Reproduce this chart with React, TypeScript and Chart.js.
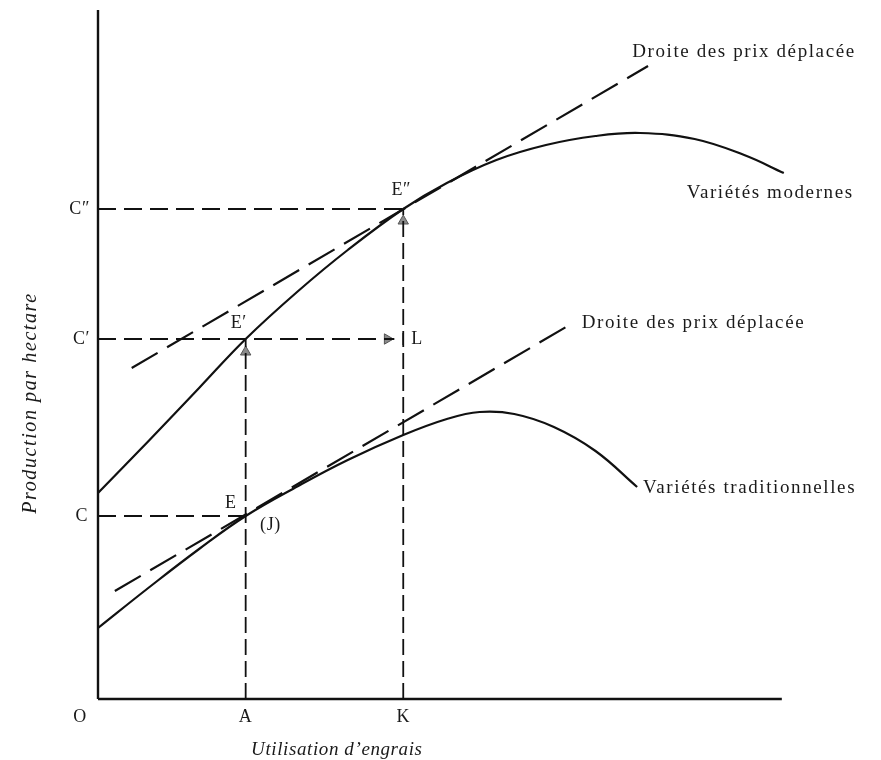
import React, { useEffect, useRef } from "react";
import { Chart, registerables } from "chart.js";

Chart.register(...registerables);

// Units: x = fertilizer use, y = production per hectare (origin O = 0,0)
const X_MAX = 783;
const Y_MAX = 689;

const modernX = [0, 52, 102, 149, 202, 252, 308, 352, 402, 452, 502, 547, 602, 652, 692];
const modernY = [206, 259, 311, 360, 408, 449, 490, 516, 539, 554, 563, 566, 560, 544, 526];

const tradX = [0, 52, 102, 149, 202, 252, 308, 352, 385, 420, 460, 502, 544];
const tradY = [71, 112, 150, 183, 213, 239, 264, 280, 287, 285, 272, 248, 212];

const upperPriceX = [34, 555];
const upperPriceY = [331, 633];
const lowerPriceX = [17, 474];
const lowerPriceY = [108, 373];

// Key levels
const A_X = 149;
const K_X = 308;
const C_Y = 183;
const C1_Y = 360;
const C2_Y = 490;
const L_X = 299;

const pts = (xs: number[], ys: number[]) => xs.map((x, i) => ({ x, y: ys[i] }));

type Lbl = { text: string; x: number; y: number; align?: CanvasTextAlign; big?: boolean };

const SERIF = '"Liberation Serif", "DejaVu Serif", serif';

const labels: Lbl[] = [
  { text: "C″", x: -8, y: C2_Y, align: "right" },
  { text: "C′", x: -8, y: C1_Y, align: "right" },
  { text: "C", x: -10, y: C_Y, align: "right" },
  { text: "O", x: -18, y: -18, align: "center" },
  { text: "A", x: A_X, y: -18, align: "center" },
  { text: "K", x: K_X, y: -18, align: "center" },
  { text: "E″", x: 306, y: 509, align: "center" },
  { text: "E′", x: 142, y: 376, align: "center" },
  { text: "E", x: 134, y: 196, align: "center" },
  { text: "(J)", x: 174, y: 174, align: "center" },
  { text: "L", x: 316, y: C1_Y, align: "left" },
  { text: "Droite des prix déplacée", x: 539, y: 647, align: "left", big: true },
  { text: "Variétés modernes", x: 594, y: 506, align: "left", big: true },
  { text: "Droite des prix déplacée", x: 488, y: 376, align: "left", big: true },
  { text: "Variétés traditionnelles", x: 550, y: 211, align: "left", big: true },
];

const xTitle = "Utilisation d’engrais";
const yTitle = "Production par hectare";

const textPlugin = {
  id: "textLabels",
  afterDatasetsDraw(chart: any) {
    const { ctx, scales } = chart;
    const sx = scales.x;
    const sy = scales.y;
    ctx.save();
    ctx.fillStyle = "#1a1a1a";
    ctx.textBaseline = "middle";
    for (const l of labels) {
      ctx.font = l.big ? `19px ${SERIF}` : `18px ${SERIF}`;
      (ctx as any).letterSpacing = l.big ? "1.6px" : "0.6px";
      ctx.textAlign = l.align || "left";
      ctx.fillText(l.text, sx.getPixelForValue(l.x), sy.getPixelForValue(l.y));
    }
    ctx.font = `italic 19px ${SERIF}`;
    (ctx as any).letterSpacing = "0.6px";
    ctx.textAlign = "center";
    ctx.fillText(xTitle, sx.getPixelForValue(241), sy.getPixelForValue(-51));
    ctx.font = `italic 20px ${SERIF}`;
    (ctx as any).letterSpacing = "1.6px";
    ctx.translate(sx.getPixelForValue(-68), sy.getPixelForValue(296));
    ctx.rotate(-Math.PI / 2);
    ctx.fillText(yTitle, 0, 0);
    ctx.restore();
  },
};

export default function App() {
  const ref = useRef<HTMLCanvasElement | null>(null);
  useEffect(() => {
    if (!ref.current) return;
    const solid = (data: any[], w = 2) => ({
      data,
      borderColor: "#111",
      borderWidth: w,
      pointRadius: 0,
      showLine: true,
      fill: false,
      tension: 0.4,
      clip: false,
    });
    const dashed = (data: any[], dash: number[], w = 1.8) => ({
      data,
      borderColor: "#111",
      borderWidth: w,
      borderDash: dash,
      pointRadius: 0,
      showLine: true,
      fill: false,
      tension: 0,
      clip: false,
    });
    const arrow = (x: number, y: number, rot: number) => ({
      data: [{ x, y }],
      showLine: false,
      pointStyle: "triangle",
      pointRadius: 6,
      pointRotation: rot,
      backgroundColor: "#8a8a8a",
      borderColor: "#555",
      borderWidth: 1,
      clip: false,
    });
    const chart = new Chart(ref.current, {
      type: "scatter",
      data: {
        datasets: [
          solid([{ x: 0, y: 0 }, { x: 0, y: Y_MAX }], 2.4),
          solid([{ x: 0, y: 0 }, { x: 690, y: 0 }], 2.4),
          solid(pts(modernX, modernY), 2.2),
          solid(pts(tradX, tradY), 2.2),
          dashed(pts(upperPriceX, upperPriceY), [30, 11], 2.2),
          dashed(pts(lowerPriceX, lowerPriceY), [30, 11], 2.2),
          dashed([{ x: 0, y: C2_Y }, { x: K_X, y: C2_Y }], [18, 8]),
          dashed([{ x: 0, y: C1_Y }, { x: L_X, y: C1_Y }], [18, 8]),
          dashed([{ x: 0, y: C_Y }, { x: A_X, y: C_Y }], [18, 8]),
          dashed([{ x: A_X, y: 0 }, { x: A_X, y: C1_Y }], [16, 6]),
          dashed([{ x: K_X, y: 0 }, { x: K_X, y: C2_Y }], [16, 6]),
          dashed([{ x: K_X, y: C1_Y - 6 }, { x: K_X, y: C1_Y + 6 }], [], 1.5),
          arrow(A_X, C1_Y - 13, 0),
          arrow(K_X, C2_Y - 12, 0),
          arrow(L_X - 7, C1_Y, 90),
        ] as any,
      },
      options: {
        animation: false,
        responsive: false,
        layout: { padding: { left: 98, top: 10, right: 0, bottom: 61 } },
        plugins: { legend: { display: false }, tooltip: { enabled: false } },
        scales: {
          x: { type: "linear", display: false, min: 0, max: X_MAX },
          y: { type: "linear", display: false, min: 0, max: Y_MAX },
        },
      },
      plugins: [textPlugin],
    });
    return () => chart.destroy();
  }, []);
  return (
    <div style={{ position: "absolute", left: 0, top: 0, width: 881, height: 760, background: "#fff" }}>
      <canvas ref={ref} width={881} height={760} style={{ display: "block" }} />
    </div>
  );
}
